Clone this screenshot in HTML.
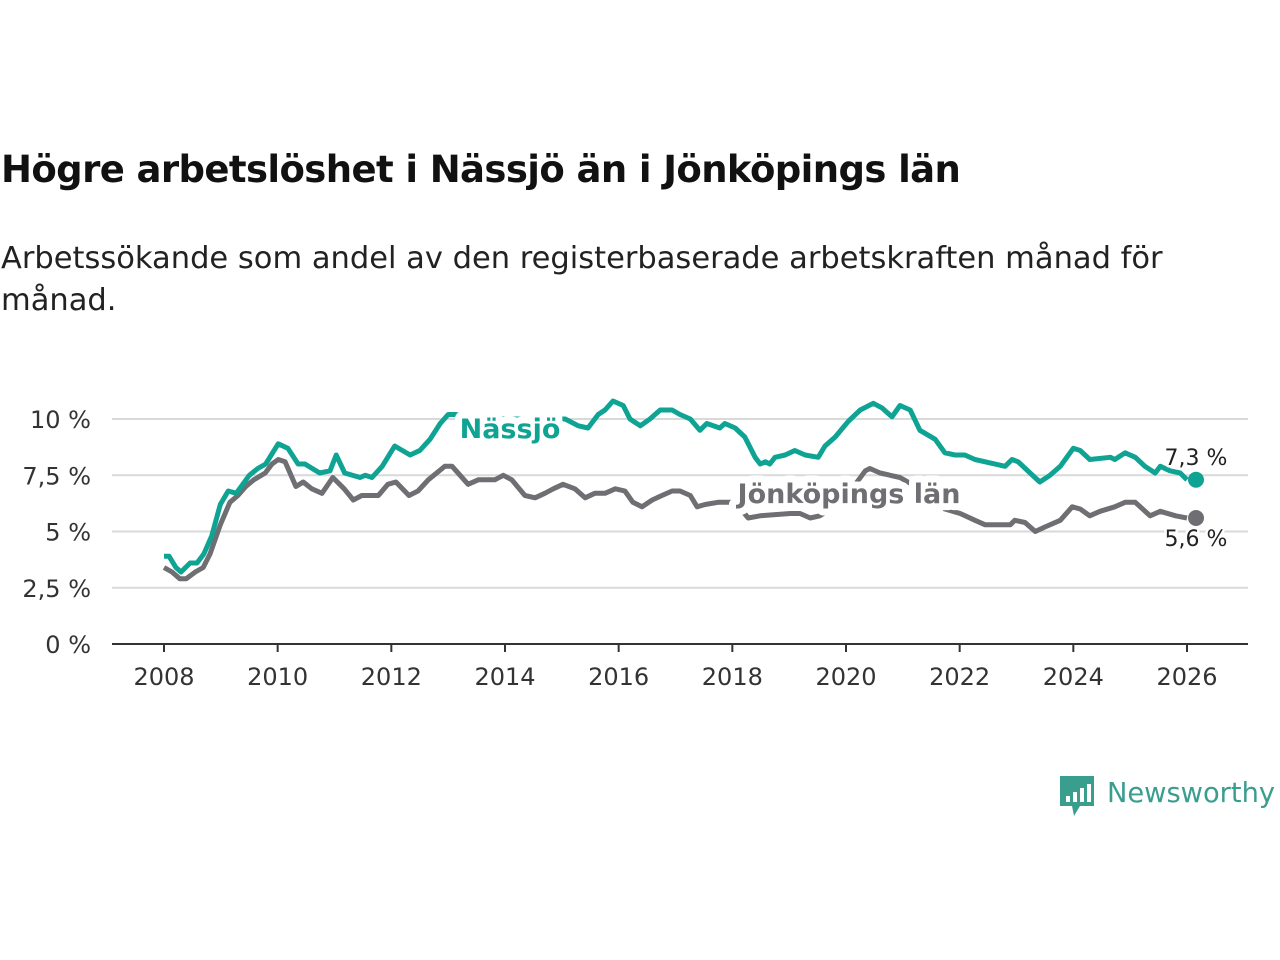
<!DOCTYPE html>
<html><head><meta charset="utf-8"><style>
body{margin:0;width:1280px;height:960px;background:#fff;overflow:hidden;font-family:"Liberation Sans","DejaVu Sans",sans-serif}
#title{position:absolute;left:1px;top:148px;font-size:37px;font-weight:bold;color:#111;font-family:"DejaVu Sans","Liberation Sans",sans-serif;letter-spacing:-0.6px;white-space:nowrap}
#sub{position:absolute;left:1px;top:238px;font-size:30.5px;line-height:42px;color:#222;width:1220px;font-family:"DejaVu Sans","Liberation Sans",sans-serif}
svg{position:absolute;left:0;top:0}
</style></head><body>
<div id="title">Högre arbetslöshet i Nässjö än i Jönköpings län</div>
<div id="sub">Arbetssökande som andel av den registerbaserade arbetskraften månad för<br>månad.</div>
<svg id="chart" width="1280" height="960"></svg>
<script>
const nYears=[2008,2008.09,2008.21,2008.3,2008.46,2008.58,2008.7,2008.84,2008.99,2009.13,2009.27,2009.5,2009.65,2009.79,2010.01,2010.18,2010.36,2010.48,2010.74,2010.92,2011.03,2011.18,2011.45,2011.54,2011.66,2011.84,2012.06,2012.33,2012.5,2012.68,2012.86,2013,2013.12,2014,2014.5,2015.06,2015.29,2015.46,2015.64,2015.76,2015.9,2016.08,2016.2,2016.38,2016.55,2016.73,2016.94,2017.08,2017.26,2017.43,2017.55,2017.78,2017.87,2018.05,2018.22,2018.4,2018.49,2018.58,2018.66,2018.75,2018.93,2019.1,2019.28,2019.51,2019.63,2019.81,2020.04,2020.25,2020.48,2020.63,2020.81,2020.95,2021.13,2021.3,2021.57,2021.74,2021.92,2022.09,2022.27,2022.45,2022.8,2022.92,2023.03,2023.24,2023.41,2023.59,2023.77,2024,2024.12,2024.29,2024.65,2024.73,2024.91,2025.09,2025.26,2025.44,2025.53,2025.7,2025.88,2026];
const nassjo=[3.9,3.9,3.4,3.2,3.6,3.6,4.0,4.8,6.2,6.8,6.7,7.5,7.8,8.0,8.9,8.7,8.0,8.0,7.6,7.7,8.4,7.6,7.4,7.5,7.4,7.9,8.8,8.4,8.6,9.1,9.8,10.2,10.2,10.0,10.0,10.0,9.7,9.6,10.2,10.4,10.8,10.6,10.0,9.7,10.0,10.4,10.4,10.2,10.0,9.5,9.8,9.6,9.8,9.6,9.2,8.3,8.0,8.1,8.0,8.3,8.4,8.6,8.4,8.3,8.8,9.2,9.9,10.4,10.7,10.5,10.1,10.6,10.4,9.5,9.1,8.5,8.4,8.4,8.2,8.1,7.9,8.2,8.1,7.6,7.2,7.5,7.9,8.7,8.6,8.2,8.3,8.2,8.5,8.3,7.9,7.6,7.9,7.7,7.6,7.3];
const jYears=[2008,2008.14,2008.28,2008.39,2008.55,2008.69,2008.81,2008.99,2009.16,2009.3,2009.44,2009.58,2009.78,2009.9,2010.01,2010.13,2010.32,2010.45,2010.6,2010.78,2010.97,2011.17,2011.33,2011.48,2011.77,2011.94,2012.08,2012.31,2012.47,2012.65,2012.94,2013.07,2013.35,2013.53,2013.82,2013.97,2014.12,2014.35,2014.53,2014.7,2014.85,2015.02,2015.23,2015.41,2015.58,2015.76,2015.94,2016.11,2016.25,2016.41,2016.59,2016.76,2016.94,2017.08,2017.26,2017.38,2017.52,2017.75,2018.05,2018.28,2018.49,2019.02,2019.19,2019.37,2019.54,2019.93,2020.34,2020.42,2020.6,2020.95,2021.3,2021.57,2021.74,2022.01,2022.27,2022.45,2022.89,2022.97,2023.15,2023.33,2023.5,2023.77,2023.98,2024.12,2024.29,2024.47,2024.73,2024.91,2025.09,2025.35,2025.53,2025.8,2026];
const jonkoping=[3.4,3.2,2.9,2.9,3.2,3.4,4.0,5.3,6.3,6.6,7.0,7.3,7.6,8.0,8.2,8.1,7.0,7.2,6.9,6.7,7.4,6.9,6.4,6.6,6.6,7.1,7.2,6.6,6.8,7.3,7.9,7.9,7.1,7.3,7.3,7.5,7.3,6.6,6.5,6.7,6.9,7.1,6.9,6.5,6.7,6.7,6.9,6.8,6.3,6.1,6.4,6.6,6.8,6.8,6.6,6.1,6.2,6.3,6.3,5.6,5.7,5.8,5.8,5.6,5.7,6.3,7.7,7.8,7.6,7.4,6.9,6.6,6.0,5.8,5.5,5.3,5.3,5.5,5.4,5.0,5.2,5.5,6.1,6.0,5.7,5.9,6.1,6.3,6.3,5.7,5.9,5.7,5.6];
const yTicks=[0,2.5,5,7.5,10];
const yTickLabels=["0 %","2,5 %","5 %","7,5 %","10 %"];
const xTicks=[2008,2010,2012,2014,2016,2018,2020,2022,2024,2026];
const NS="http://www.w3.org/2000/svg";
const svg=document.getElementById('chart');
const xs=y=>164+(y-2008)*(1187-164)/18;
const ys=v=>644-v*22.5;
function mk(t,a,p){const e=document.createElementNS(NS,t);for(const k in a)e.setAttribute(k,a[k]);(p||svg).appendChild(e);return e;}
yTicks.forEach((t,i)=>{
 if(t>0){const g=mk('line',{x1:112,x2:1248,y1:ys(t),y2:ys(t),stroke:'#d9d9d9','stroke-width':2});
 
 }
 const l=mk('text',{x:91,y:ys(t)+9,'text-anchor':'end','font-size':24,fill:'#333','font-family':'DejaVu Sans, Liberation Sans, sans-serif'});
 l.textContent=yTickLabels[i];
 
 
});
const ax=mk('line',{x1:112,x2:1248,y1:644,y2:644,stroke:'#333','stroke-width':2});


xTicks.forEach(t=>{
 const tk=mk('line',{x1:xs(t),x2:xs(t),y1:644,y2:652,stroke:'#333','stroke-width':2});
 
 
 const l=mk('text',{x:xs(t),y:685,'text-anchor':'middle','font-size':24,fill:'#333','font-family':'DejaVu Sans, Liberation Sans, sans-serif'});
 l.textContent=t;
 
 
});
function line(xa,va,col,name){
 const d=xa.map((x,i)=>(i?'L':'M')+xs(x).toFixed(1)+','+ys(va[i]).toFixed(1)).join('');
 const p=mk('path',{d:d,fill:'none',stroke:col,'stroke-width':5,'stroke-linejoin':'round'});
 
 
 const n=xa.length-1;
 const c=mk('circle',{cx:xs(xa[n])+9,cy:ys(va[n]),r:8,fill:col});
 
 
 return [xs(xa[n]),ys(va[n])];
}
const je=line(jYears,jonkoping,'#6e6e73','jonkoping-line');
const ne=line(nYears,nassjo,'#0fa393','nassjo-line');
function lab(x,y,txt,col,size,bold,name,sw){
 const t=mk('text',{x:x,y:y,'text-anchor':'middle','font-size':size,fill:col,'font-weight':bold?'bold':'normal',stroke:'#fff','stroke-width':sw,'paint-order':'stroke','stroke-linejoin':'round','font-family':'DejaVu Sans, Liberation Sans, sans-serif'});
 t.textContent=txt;
 
 
}
lab(510,438,'Nässjö','#0fa393',27,true,'nassjo-label',14);
lab(849,503,'Jönköpings län','#6e6e73',27,true,'jonkoping-label',14);
lab(ne[0]+9,ne[1]-15,'7,3 %','#222',22,false,'nassjo-end-value',5);
lab(je[0]+9,je[1]+28,'5,6 %','#222',22,false,'jonkoping-end-value',5);
// logo
const lg=mk('g',{});


mk('path',{d:'M1060,776 h34 v30 h-14 l-6,10 l-2,-10 h-12 z',fill:'#3a9e8f'},lg);
[[1066,6],[1073,10],[1080,14],[1087,18]].forEach(b=>mk('rect',{x:b[0],y:802-b[1],width:4,height:b[1],fill:'#fff'},lg));
const lt=mk('text',{x:1107,y:802,'font-size':28,fill:'#3a9e8f',textLength:168,lengthAdjust:'spacingAndGlyphs','font-family':'DejaVu Sans, Liberation Sans, sans-serif'},lg);
lt.textContent='Newsworthy';
</script>
</body></html>
